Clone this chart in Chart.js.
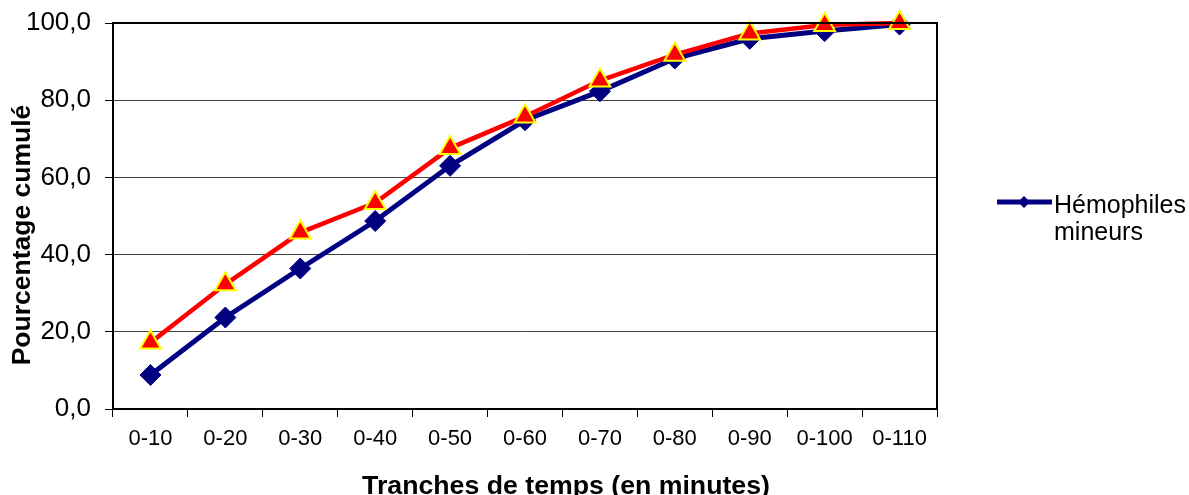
<!DOCTYPE html>
<html lang="fr">
<head>
<meta charset="UTF-8">
<title>Pourcentage cumulé</title>
<script src="https://cdn.jsdelivr.net/npm/chart.js"></script>
<style>
  html, body { margin: 0; padding: 0; background: #fff; }
  #wrap { width: 1189px; height: 495px; position: relative; }
</style>
</head>
<body>
<div id="wrap"><canvas id="chart"></canvas></div>
<script>
// données
var tranches = ['0-10', '0-20', '0-30', '0-40', '0-50', '0-60', '0-70', '0-80', '0-90', '0-100', '0-110'];
var mineurs = [8.8, 23.7, 36.4, 48.7, 63.0, 74.8, 82.3, 90.8, 95.9, 97.9, 99.6];
var serie2 = [17.2, 32.3, 45.7, 53.4, 67.6, 75.8, 85.1, 91.8, 97.3, 99.5, 100.0];
var yTicks = [0, 20, 40, 60, 80, 100];

var titreX = 'Tranches de temps (en minutes)';
var titreY = 'Pourcentage cumulé';
var legendeLignes = ['Hémophiles', 'mineurs'];

var police = '"Liberation Sans", Arial, sans-serif';

// cadre, titres et légende
var decor = {
  id: 'decor',
  afterDraw: function (chart) {
    var ctx = chart.ctx;
    var a = chart.chartArea;
    ctx.save();
    // bord droit et haut de la zone de tracé
    ctx.strokeStyle = '#000';
    ctx.lineWidth = 2;
    ctx.beginPath();
    ctx.moveTo(a.left, a.top);
    ctx.lineTo(a.right, a.top);
    ctx.lineTo(a.right, a.bottom);
    ctx.stroke();

    // titre axe Y
    ctx.fillStyle = '#000';
    ctx.font = 'bold 26.5px ' + police;
    ctx.textAlign = 'center';
    ctx.textBaseline = 'middle';
    ctx.translate(23, 235);
    ctx.rotate(-Math.PI / 2);
    ctx.fillText(titreY, 0, 0);
    ctx.setTransform(1, 0, 0, 1, 0, 0);

    // titre axe X
    ctx.font = 'bold 26.7px ' + police;
    ctx.textAlign = 'center';
    ctx.textBaseline = 'alphabetic';
    ctx.fillText(titreX, 566, 494);

    // légende
    ctx.strokeStyle = '#000080';
    ctx.lineWidth = 5;
    ctx.beginPath();
    ctx.moveTo(997, 202);
    ctx.lineTo(1052, 202);
    ctx.stroke();
    ctx.fillStyle = '#000080';
    ctx.beginPath();
    ctx.moveTo(1024, 196);
    ctx.lineTo(1030, 202);
    ctx.lineTo(1024, 208);
    ctx.lineTo(1018, 202);
    ctx.closePath();
    ctx.fill();
    ctx.fillStyle = '#000';
    ctx.font = '25px ' + police;
    ctx.textAlign = 'left';
    ctx.fillText(legendeLignes[0], 1054, 213);
    ctx.fillText(legendeLignes[1], 1054, 240);
    ctx.restore();
  }
};

var chart = new Chart(document.getElementById('chart'), {
  type: 'line',
  data: {
    labels: tranches,
    datasets: [{
      label: 'série 2',
      data: serie2,
      borderColor: '#ff0000',
      borderWidth: 4.5,
      pointStyle: 'triangle',
      pointRadius: 12,
      pointBackgroundColor: '#ff0000',
      pointBorderColor: '#ffff00',
      pointBorderWidth: 2,
      tension: 0,
      clip: false,
      order: 0
    }, {
      label: 'Hémophiles mineurs',
      data: mineurs,
      borderColor: '#000080',
      borderWidth: 5,
      pointStyle: 'rectRot',
      pointRadius: 10.5,
      pointBackgroundColor: '#000080',
      pointBorderColor: '#000080',
      pointBorderWidth: 1,
      tension: 0,
      clip: false,
      order: 1
    }]
  },
  options: {
    responsive: true,
    maintainAspectRatio: false,
    animation: false,
    layout: { padding: { left: 0, top: 23, right: 252, bottom: 0 } },
    plugins: {
      legend: { display: false },
      tooltip: { enabled: false }
    },
    scales: {
      x: {
        offset: true,
        grid: { offset: true, drawOnChartArea: false, drawTicks: true, tickLength: 8, color: '#000', lineWidth: 1 },
        border: { color: '#000', width: 2 },
        ticks: { color: '#000', font: { family: police, size: 22 }, padding: 9, maxRotation: 0, autoSkip: false },
        afterFit: function (s) { s.height = 86; s.paddingLeft = 0; s.paddingRight = 0; }
      },
      y: {
        min: 0,
        max: 100,
        afterBuildTicks: function (s) { s.ticks = yTicks.map(function (v) { return { value: v }; }); },
        grid: { color: '#444', lineWidth: 1, tickLength: 8, tickColor: '#000' },
        border: { color: '#000', width: 2 },
        ticks: {
          color: '#000',
          font: { family: police, size: 26 },
          padding: 14,
          callback: function (v) { return v.toFixed(1).replace('.', ','); }
        },
        afterFit: function (s) { s.width = 113; s.paddingTop = 0; s.paddingBottom = 0; }
      }
    }
  },
  plugins: [decor]
});
</script>
</body>
</html>
